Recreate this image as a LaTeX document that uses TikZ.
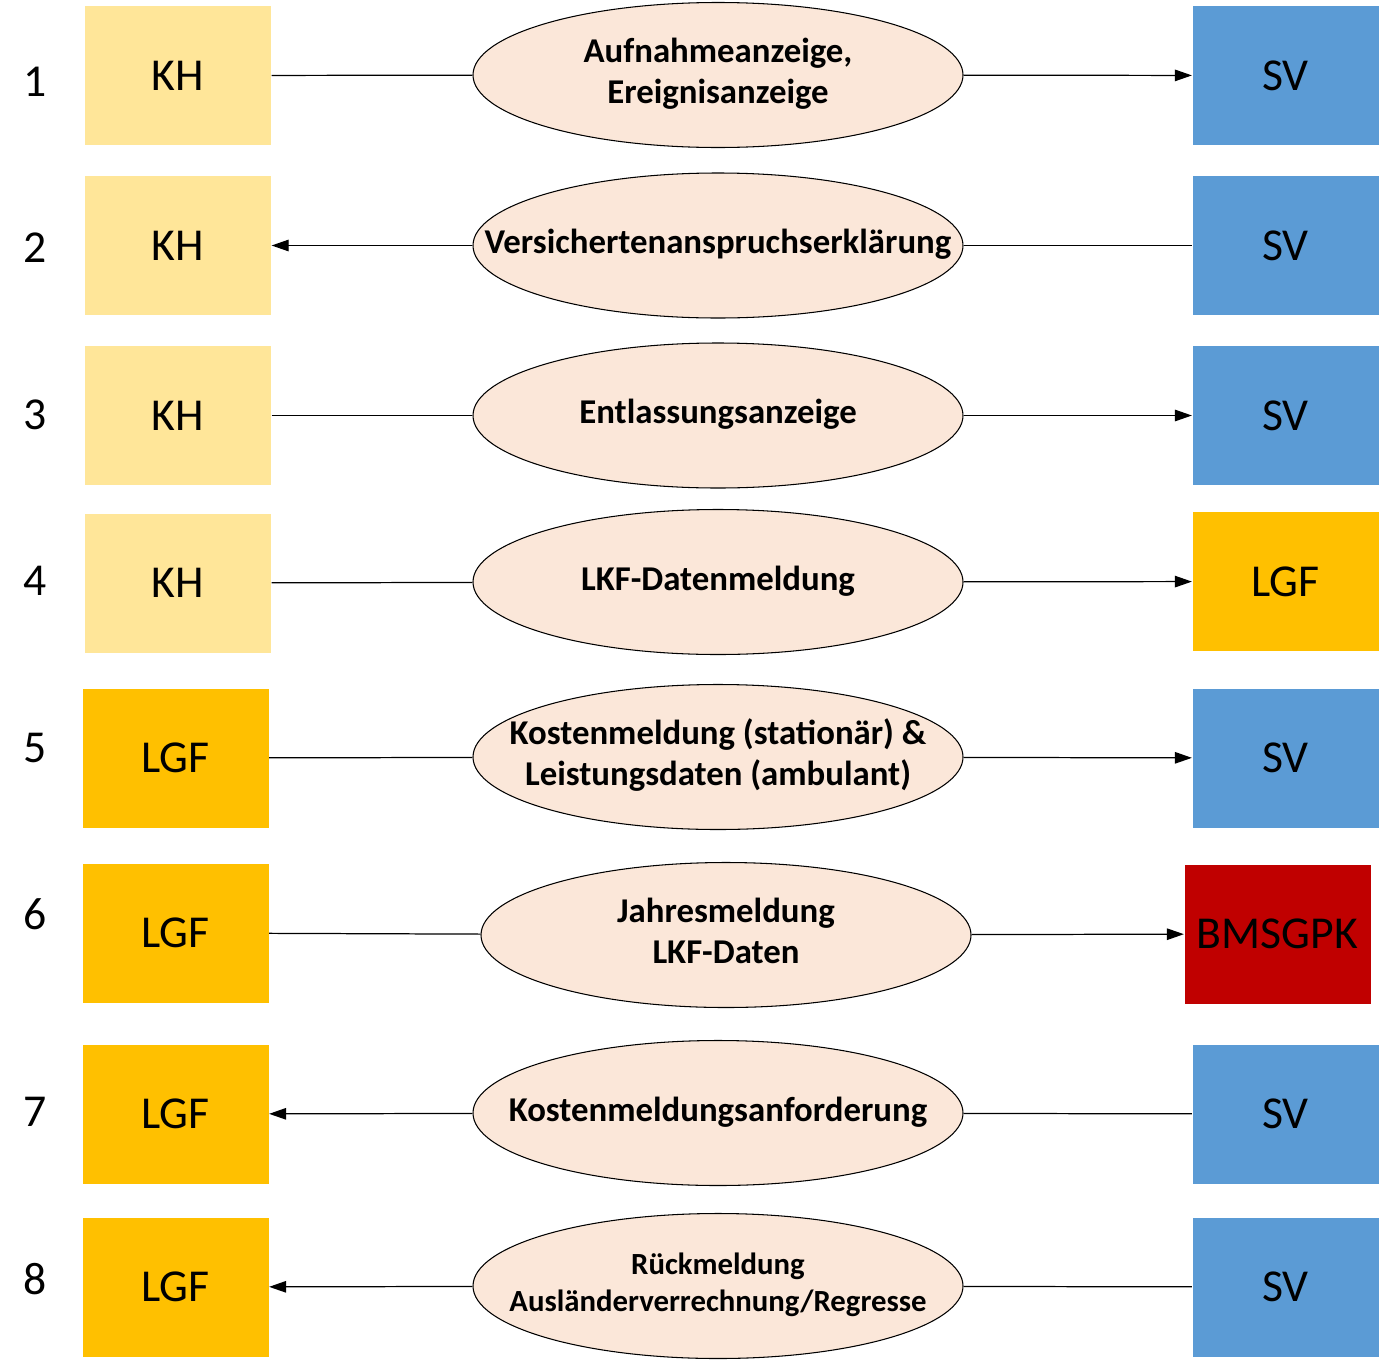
\documentclass[tikz,border=0pt]{standalone}
\usepackage{fontspec}
\setmainfont{Carlito}
\usetikzlibrary{arrows,arrows.meta,shapes.geometric}
\definecolor{khgelb}{HTML}{FFE699}
\definecolor{svblau}{HTML}{5B9BD5}
\definecolor{lgforange}{HTML}{FFC000}
\definecolor{bmrot}{HTML}{C00000}
\definecolor{meldung}{HTML}{FBE7D9}
\newcommand{\mtext}[1]{\makebox[0pt][c]{\raisebox{-1.3pt}{\begin{tabular}{@{}c@{}}#1\end{tabular}}}}
\tikzset{
  stelle/.style={minimum width=3.72cm,minimum height=2.78cm,inner sep=0pt,font=\fontsize{26}{30}\selectfont},
  meldungsfeld/.style={ellipse,draw,line width=0.6pt,fill=meldung,minimum width=9.8cm,minimum height=2.9cm,inner sep=0pt,font=\fontsize{19.8}{23.3}\selectfont\bfseries},
  nummer/.style={font=\fontsize{26}{30}\selectfont},
  pfeil/.style={-{Triangle[length=3.4mm,width=2.3mm]}},
}
\begin{document}
\begin{tikzpicture}[line width=0.7pt]
\useasboundingbox (0,0) rectangle (27.8,-27.42);
 % Zeile 1
  \draw (0.7,-1.64) node[nummer] (n1) {1};
  \draw (3.56,-1.51) node[stelle,fill=khgelb] (KH1) {KH};
  \draw (14.36,-1.5) node[meldungsfeld] (E1) {\mtext{Aufnahmeanzeige,\\Ereignisanzeige}};
  \draw (25.71,-1.51) node[stelle,fill=svblau] (SV1) {SV};
 % Zeile 2
  \draw (0.7,-4.96) node[nummer] (n2) {2};
  \draw (3.56,-4.91) node[stelle,fill=khgelb] (KH2) {KH};
  \draw (14.36,-4.91) node[meldungsfeld] (E2) {\mtext{Versichertenanspruchserklärung}};
  \draw (25.71,-4.91) node[stelle,fill=svblau] (SV2) {SV};
 % Zeile 3
  \draw (0.7,-8.3) node[nummer] (n3) {3};
  \draw (3.56,-8.31) node[stelle,fill=khgelb] (KH3) {KH};
  \draw (14.36,-8.31) node[meldungsfeld] (E3) {\mtext{Entlassungsanzeige}};
  \draw (25.71,-8.31) node[stelle,fill=svblau] (SV3) {SV};
 % Zeile 4
  \draw (0.7,-11.62) node[nummer] (n4) {4};
  \draw (3.56,-11.66) node[stelle,fill=khgelb] (KH4) {KH};
  \draw (14.36,-11.64) node[meldungsfeld] (E4) {\mtext{LKF-Datenmeldung}};
  \draw (25.71,-11.63) node[stelle,fill=lgforange] (LGF4) {LGF};
 % Zeile 5
  \draw (0.7,-14.96) node[nummer] (n5) {5};
  \draw (3.51,-15.16) node[stelle,fill=lgforange] (LGF5) {LGF};
  \draw (14.36,-15.14) node[meldungsfeld] (E5) {\mtext{Kostenmeldung (stationär) \&\\Leistungsdaten (ambulant)}};
  \draw (25.71,-15.16) node[stelle,fill=svblau] (SV5) {SV};
 % Zeile 6
  \draw (0.7,-18.28) node[nummer] (n6) {6};
  \draw (3.51,-18.66) node[stelle,fill=lgforange] (LGF6) {LGF};
  \draw (14.52,-18.7) node[meldungsfeld] (E6) {\mtext{Jahresmeldung\\LKF-Daten}};
  \draw (25.55,-18.68) node[stelle,fill=bmrot] (BM6) {BMSGPK};
 % Zeile 7
  \draw (0.7,-22.24) node[nummer] (n7) {7};
  \draw (3.51,-22.28) node[stelle,fill=lgforange] (LGF7) {LGF};
  \draw (14.36,-22.26) node[meldungsfeld] (E7) {\mtext{Kostenmeldungsanforderung}};
  \draw (25.71,-22.28) node[stelle,fill=svblau] (SV7) {SV};
 % Zeile 8
  \draw (0.7,-25.58) node[nummer] (n8) {8};
  \draw (3.51,-25.74) node[stelle,fill=lgforange] (LGF8) {LGF};
  \draw (14.36,-25.72) node[meldungsfeld,font=\fontsize{17.5}{21}\selectfont\bfseries] (E8) {\mtext{Rückmeldung\\Ausländerverrechnung/Regresse}};
  \draw (25.71,-25.74) node[stelle,fill=svblau] (SV8) {SV};


     \path[-] (KH1) edge (E1);
     \path[pfeil] (E1) edge (SV1);
     \path[pfeil] (E2) edge (KH2);
     \path[-] (SV2) edge (E2);
     \path[-] (KH3) edge (E3);
     \path[pfeil] (E3) edge (SV3);
     \path[-] (KH4) edge (E4);
     \path[pfeil] (E4) edge (LGF4);
     \path[-] (LGF5) edge (E5);
     \path[pfeil] (E5) edge (SV5);
     \path[-] (LGF6) edge (E6);
     \path[pfeil] (E6) edge (BM6);
     \path[pfeil] (E7) edge (LGF7);
     \path[-] (SV7) edge (E7);
     \path[pfeil] (E8) edge (LGF8);
     \path[-] (SV8) edge (E8);


\end{tikzpicture}
\end{document}
